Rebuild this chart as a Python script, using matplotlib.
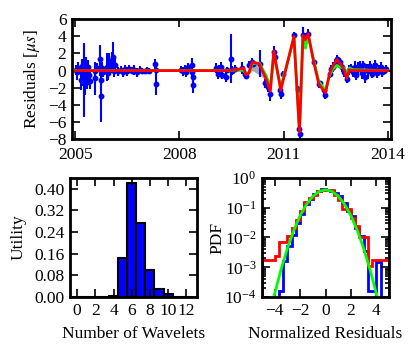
"""
Timing residuals with wavelet model, wavelet-count utility and normalized residual PDF.
"""

import numpy as np
import matplotlib
matplotlib.use('Agg')
import matplotlib.pyplot as plt
from matplotlib.ticker import LogLocator, NullFormatter

# ============== Data ==============
# Timing residuals (year, residual [us], error [us])
RES_T = [2005.02, 2005.05, 2005.08, 2005.15, 2005.18, 2005.20, 2005.22, 2005.24, 2005.26,
         2005.28, 2005.30, 2005.33, 2005.35, 2005.38, 2005.43, 2005.55, 2005.56, 2005.62,
         2005.70, 2005.72, 2005.73, 2005.74, 2005.76, 2005.80, 2005.90, 2005.93, 2005.97,
         2006.02, 2006.05, 2006.08, 2006.12, 2006.15, 2006.22, 2006.30, 2006.36, 2006.42,
         2006.48, 2006.55, 2006.62, 2006.70, 2006.78, 2006.85, 2006.92, 2007.00, 2007.05,
         2007.12, 2007.30, 2007.31, 2007.32,
         2008.05, 2008.10, 2008.15, 2008.20, 2008.25, 2008.35, 2008.37, 2008.38, 2008.40,
         2009.05, 2009.10, 2009.15, 2009.20, 2009.23, 2009.35, 2009.37, 2009.48, 2009.52,
         2009.60, 2009.80, 2009.88, 2009.92, 2010.00, 2010.08, 2010.12, 2010.32, 2010.48,
         2010.55, 2010.62, 2010.72, 2010.75, 2010.90, 2010.92, 2010.99, 2011.30, 2011.41,
         2011.46, 2011.47, 2011.56, 2011.63, 2011.71, 2011.87, 2012.02, 2012.05, 2012.16,
         2012.21, 2012.33, 2012.36, 2012.42, 2012.48, 2012.54, 2012.58, 2012.62, 2012.70,
         2012.75, 2012.82, 2012.88, 2012.95, 2013.00, 2013.05, 2013.10, 2013.15, 2013.20,
         2013.25, 2013.30, 2013.35, 2013.40, 2013.45, 2013.50, 2013.55, 2013.60, 2013.65,
         2013.70, 2013.75, 2013.80, 2013.85, 2013.90, 2013.95]
RES_Y = [0.1, -0.2, 0.3, -1.1, 0.5, -0.3, 0.2, -1.1, 0.8,
         -1.5, 0.0, -1.3, 0.4, -0.5, -1.2, -0.9, 0.0, 0.3,
         0.2, 1.4, -1.1, -3.0, 0.3, -0.2, 0.4, -0.3, 0.9,
         0.3, 1.2, 1.6, 0.0, 0.6, -0.1, 0.1, -0.2, 0.2,
         -0.1, 0.2, 0.0, 0.1, -0.2, 0.1, 0.0, -0.1, 0.1,
         0.0, 0.8, 0.1, -1.6,
         0.1, -0.1, 0.2, -0.2, 0.4, 0.7, -0.2, -0.8, -1.7,
         0.3, -0.4, 0.1, 0.4, -0.5, -0.7, 0.1, 1.4, 0.0,
         0.2, 0.3, -0.4, -0.6, 0.7, 1.0, 0.8, 0.8, -1.5,
         -1.9, -2.7, 2.2, 1.6, -2.3, -2.7, -0.4, 4.1, -2.2,
         -6.8, -7.4, 4.1, 3.8, 4.3, 1.0, -1.6, -1.5, -2.3,
         -2.8, -0.4, 0.2, 0.4, 0.8, 1.4, 1.2, 1.0, 0.4,
         -0.2, -1.0, 0.1, 0.3, -0.2, 0.4, -0.5, 0.2, 0.5,
         -0.3, 0.6, -0.8, 0.3, -0.1, 0.5, -0.4, 0.2, 0.7,
         -0.3, 0.1, 0.4, -0.2, 0.0, 0.2]
RES_E = [0.6, 0.9, 0.7, 1.2, 0.9, 1.5, 1.0, 4.3, 1.0,
         1.3, 1.6, 0.9, 0.8, 1.2, 1.0, 1.9, 0.5, 0.6,
         0.8, 1.6, 1.0, 3.0, 0.7, 0.5, 1.6, 0.8, 1.2,
         0.6, 1.0, 1.7, 0.7, 0.8, 0.5, 0.4, 0.5, 0.4,
         0.5, 0.5, 0.4, 0.6, 0.5, 0.4, 0.3, 0.3, 0.3,
         0.3, 0.6, 0.5, 1.2,
         0.4, 0.5, 0.4, 0.6, 0.5, 0.8, 0.6, 0.7, 0.9,
         0.6, 0.6, 0.5, 0.6, 0.5, 0.6, 0.3, 2.9, 0.5,
         0.4, 0.7, 0.4, 0.4, 0.4, 0.5, 0.4, 1.6, 0.5,
         0.6, 0.8, 0.7, 0.5, 0.5, 0.6, 0.4, 0.4, 0.4,
         0.6, 0.6, 1.0, 0.6, 0.6, 0.4, 0.4, 0.3, 0.4,
         0.5, 0.5, 0.5, 0.6, 0.5, 0.4, 0.4, 0.5, 0.6,
         0.5, 0.4, 0.6, 0.5, 0.6, 0.7, 0.6, 0.8, 0.6,
         0.7, 0.5, 0.7, 0.5, 0.9, 0.6, 0.5, 0.7, 0.5,
         0.6, 0.5, 0.6, 0.5, 0.4, 0.5]

# Model curves (year nodes)
MODEL_T = [2005.0, 2009.4, 2009.7, 2009.85, 2009.92, 2010.0, 2010.1, 2010.3, 2010.5,
           2010.62, 2010.72, 2010.92, 2011.3, 2011.46, 2011.56, 2011.63, 2011.71, 2011.87,
           2012.02, 2012.21, 2012.33, 2012.42, 2012.54, 2012.62, 2012.75, 2012.82, 2012.9,
           2013.0, 2014.0]
MODEL_RED = [0, 0, 0.15, 0.3, -0.5, -0.3, 1.0, 0.8, -1.0,
             -2.4, 2.3, -2.3, 4.0, -7.2, 4.1, 3.6, 4.3, 1.0,
             -1.6, -2.6, -0.3, 0.5, 1.3, 0.9, 0.1, -0.9, 0.1,
             0.0, 0.0]
MODEL_GREEN = [0, 0, 0.1, 0.0, -0.4, -0.2, 0.8, 0.9, -0.6,
               -1.9, 1.8, -1.9, 3.8, -6.9, 4.0, 2.6, 4.1, 1.2,
               -1.3, -2.3, -0.5, 0.2, 0.6, 0.4, 0.3, -0.4, 0.3,
               0.1, 0.0]
BAND_LO = [0, 0, -0.1, -0.1, -0.6, -0.4, 0.0, -0.5, -1.1,
           -2.5, 1.7, -2.4, 3.7, -7.3, 3.8, 2.6, 4.0, 0.9,
           -1.7, -2.7, -0.6, 0.1, 0.5, 0.3, -0.1, -1.0, -0.1,
           -0.1, 0]
BAND_HI = [0, 0, 0.2, 0.4, -0.3, 0.0, 1.1, 1.0, -0.4,
           -1.8, 2.4, -1.8, 4.2, -6.8, 4.3, 4.4, 4.8, 1.3,
           -1.2, -2.2, -0.2, 0.8, 1.8, 1.6, 0.5, -0.3, 0.3,
           0.1, 0]

# Utility vs number of wavelets
N_WAVELETS = [0, 1, 2, 3, 4, 5, 6, 7, 8, 9, 10, 11, 12]
UTILITY = [0.0, 0.0, 0.0, 0.0, 0.003, 0.144, 0.421, 0.273, 0.100, 0.031, 0.010, 0.002, 0.001]

# Normalized residual histograms (log10 of PDF per bin, None = empty)
BIN_EDGES = np.linspace(-5, 5, 31)
RED_LOGPDF = [-2.74, -2.74, -2.74, -2.63, -2.16, -2.16, -1.94, -1.68, -1.40, -1.12,
              -0.80, -0.67, -0.56, -0.45, -0.41, -0.41, -0.41, -0.56, -0.75, -1.06,
              -1.06, -1.34, -1.62, -2.00, -2.00, -2.95, -2.74, -2.74, -2.74, -2.74]
BLUE_LOGPDF = [None, None, None, None, -3.81, -2.80, -2.30, -1.90, -1.50, -1.20,
               -0.88, -0.70, -0.55, -0.43, -0.38, -0.40, -0.43, -0.50, -0.60, -0.84,
               -1.12, -1.29, -1.68, -1.95, -2.46, -3.81, -3.81, -2.83, None, None]

# Gaussian reference
GAUSS_X = [-4.2, -4.0, -3.5, -3.0, -2.5, -2.0, -1.5, -1.0, -0.5, 0.0,
           0.5, 1.0, 1.5, 2.0, 2.5, 3.0, 3.5, 4.0, 4.2]
GAUSS_PDF = [5.9e-5, 1.34e-4, 8.7e-4, 4.4e-3, 1.75e-2, 5.4e-2, 1.30e-1, 2.42e-1, 3.52e-1, 3.99e-1,
             3.52e-1, 2.42e-1, 1.30e-1, 5.4e-2, 1.75e-2, 4.4e-3, 8.7e-4, 1.34e-4, 5.9e-5]


def to_pdf(logvals):
    return np.array([10 ** v if v is not None else 1e-9 for v in logvals])


def style_axes(ax):
    ax.tick_params(direction='in', top=True, right=True, which='both', width=1.2)
    ax.tick_params(which='major', length=6, pad=4)
    ax.tick_params(which='minor', length=3)
    for s in ax.spines.values():
        s.set_linewidth(2)


# ============== Plot ==============
plt.rcParams['font.family'] = ['Liberation Serif', 'DejaVu Serif']
plt.rcParams['mathtext.fontset'] = 'stix'
plt.rcParams['font.size'] = 12.5

fig = plt.figure(figsize=(4.16, 3.55), dpi=100)

# Top: residuals
ax1 = fig.add_axes([0.173, 0.608, 0.767, 0.338])
ax1.fill_between(MODEL_T, BAND_LO, BAND_HI, color='#aaaaaa', lw=0, zorder=1)
ax1.errorbar(RES_T, RES_Y, yerr=RES_E, fmt='o', color='blue', ms=3.2,
             elinewidth=1.5, capsize=0, zorder=2)
ax1.plot(MODEL_T, MODEL_GREEN, color='#00ff00', lw=2, zorder=3)
ax1.plot(MODEL_T, MODEL_RED, color='red', lw=2, zorder=4)
ax1.set_xlim(2004.9, 2014.1)
ax1.set_ylim(-8, 6)
ax1.set_xticks([2005, 2008, 2011, 2014])
ax1.set_xticklabels(['2005', '2008', '2011', '2014'])
ax1.set_yticks(range(-8, 7, 2))
ax1.set_ylabel(r'Residuals [$\mu s$]', labelpad=4)
style_axes(ax1)
ax1.tick_params(axis='x', pad=6)

# Bottom left: utility
ax2 = fig.add_axes([0.168, 0.163, 0.306, 0.336])
ax2.bar(N_WAVELETS, UTILITY, width=1.0, color='blue', edgecolor='black', lw=1.5)
ax2.set_xlim(-0.8, 13.2)
ax2.set_ylim(0, 0.44)
ax2.set_xticks(range(0, 13, 2))
ax2.set_yticks([0.0, 0.08, 0.16, 0.24, 0.32, 0.40])
ax2.set_yticklabels(['0.00', '0.08', '0.16', '0.24', '0.32', '0.40'])
ax2.set_xlabel('Number of Wavelets', labelpad=5)
ax2.set_ylabel('Utility', labelpad=5)
style_axes(ax2)

# Bottom right: PDF
ax3 = fig.add_axes([0.630, 0.163, 0.305, 0.336])
ax3.stairs(to_pdf(BLUE_LOGPDF), BIN_EDGES, color='blue', lw=2, baseline=1e-9)
ax3.stairs(to_pdf(RED_LOGPDF), BIN_EDGES, color='red', lw=2, baseline=1e-9)
ax3.plot(GAUSS_X, GAUSS_PDF, color='#00ff00', lw=2)
ax3.set_yscale('log')
ax3.set_xlim(-5, 5)
ax3.set_ylim(1e-4, 1)
ax3.yaxis.set_major_locator(LogLocator(base=10, numticks=10))
ax3.yaxis.set_minor_locator(LogLocator(base=10, subs=np.arange(2, 10), numticks=10))
ax3.yaxis.set_minor_formatter(NullFormatter())
ax3.set_xticks([-4, -2, 0, 2, 4])
ax3.set_xlabel('Normalized Residuals', labelpad=5)
ax3.set_ylabel('PDF', labelpad=-1)
style_axes(ax3)

fig.savefig('out.png', dpi=100)
